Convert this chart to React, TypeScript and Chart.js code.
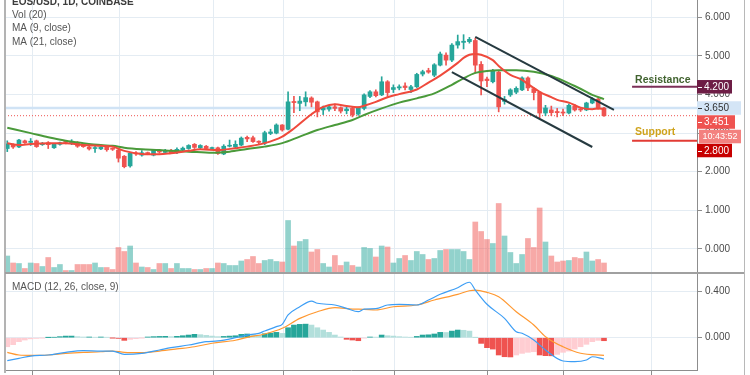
import React, { useEffect, useRef } from 'react';
import { Chart, registerables } from 'chart.js';

Chart.register(...registerables);

const FONT = "'Liberation Sans', Arial, sans-serif";

// ---------- DATA ----------
const titleText = 'EOS/USD, 1D, COINBASE';
const legendLines = ['Vol (20)', 'MA (9, close)', 'MA (21, close)'];
const macdLabel = 'MACD (12, 26, close, 9)';

const opens = [2.60,2.69,2.64,2.80,2.76,2.80,2.70,2.75,2.62,2.71, 2.78,2.74,2.75,2.69,2.64,2.60,2.59,2.64,2.60,2.56, 2.40,2.15,2.48,2.43,2.49,2.43,2.56,2.50,2.55,2.50, 2.56,2.60,2.71,2.62,2.66,2.60,2.62,2.46,2.66,2.64, 2.69,2.89,2.88,2.79,2.74,2.99,3.00,3.21,3.10,3.82, 3.77,3.81,3.91,3.81,3.60,3.62,3.68,3.66,3.58,3.64, 3.49,3.64,3.95,4.07,3.99,4.33,4.13,4.17,4.22,4.13, 4.20,4.53,4.62,4.50,4.76,5.02,4.89,5.28,5.35,5.37, 5.40,4.78,4.40,4.33,4.58,3.82,3.99,4.06,4.12,4.43, 4.15,4.06,3.52,3.60,3.56,3.54,3.52,3.70,3.62,3.60, 3.78,3.88,3.65];
const highs = [2.80,2.72,2.84,2.82,2.86,2.82,2.76,2.78,2.73,2.77, 2.80,2.83,2.78,2.71,2.66,2.66,2.66,2.66,2.62,2.60, 2.42,2.50,2.52,2.55,2.51,2.57,2.58,2.58,2.58,2.62, 2.64,2.70,2.73,2.70,2.68,2.64,2.64,2.70,2.82,2.80, 2.90,2.92,2.92,2.80,3.05,3.10,3.24,3.22,4.07,3.95, 3.95,4.07,3.94,3.83,3.70,3.72,3.75,3.68,3.67,3.68, 3.68,4.02,4.10,4.12,4.46,4.36,4.25,4.25,4.30,4.24, 4.55,4.63,4.68,4.80,5.10,5.08,5.32,5.54,5.55,5.48, 5.46,4.85,4.45,4.65,4.62,3.95,4.15,4.20,4.46,4.46, 4.18,4.08,3.72,3.70,3.64,3.62,3.76,3.74,3.66,3.80, 3.92,3.90,3.67];
const lows = [2.52,2.60,2.62,2.73,2.68,2.63,2.68,2.60,2.60,2.69, 2.72,2.70,2.63,2.63,2.56,2.50,2.57,2.53,2.55,2.25, 2.10,2.12,2.42,2.40,2.44,2.41,2.48,2.48,2.47,2.47, 2.54,2.58,2.60,2.60,2.58,2.58,2.45,2.44,2.64,2.62, 2.67,2.78,2.76,2.72,2.70,2.96,2.98,3.05,3.08,3.53, 3.58,3.70,3.68,3.42,3.48,3.57,3.58,3.52,3.50,3.42, 3.46,3.60,3.92,3.94,3.97,3.95,4.05,4.12,4.12,4.05, 4.18,4.48,4.55,4.46,4.74,4.76,4.85,5.20,5.18,5.33, 4.55,3.99,4.20,4.30,3.55,3.75,3.95,4.02,4.10,4.10, 3.86,3.40,3.45,3.45,3.42,3.45,3.50,3.57,3.56,3.58, 3.76,3.62,3.43];
const closes = [2.72,2.64,2.82,2.75,2.79,2.65,2.73,2.70,2.71,2.75, 2.76,2.79,2.66,2.65,2.59,2.62,2.64,2.57,2.58,2.35, 2.13,2.48,2.46,2.49,2.47,2.55,2.51,2.55,2.49,2.58, 2.61,2.68,2.63,2.68,2.60,2.62,2.47,2.66,2.68,2.71, 2.87,2.85,2.78,2.76,3.01,3.03,3.21,3.08,3.81,3.79, 3.83,3.92,3.80,3.55,3.66,3.68,3.64,3.57,3.62,3.47, 3.66,3.99,4.07,3.97,4.33,4.05,4.18,4.20,4.18,4.20, 4.52,4.59,4.58,4.77,5.05,4.89,5.28,5.37,5.38,5.43, 4.76,4.35,4.36,4.60,3.68,3.87,4.12,4.16,4.43,4.17, 4.05,3.52,3.65,3.53,3.53,3.52,3.72,3.60,3.60,3.78, 3.88,3.65,3.451];
const volumes = [3.4,2.0,1.9,0.9,2.0,1.9,1.3,3.1,1.1,1.7, 0.5,0.5,1.7,1.7,1.7,2.0,1.1,1.1,0.7,5.1, 4.3,5.4,2.0,1.2,1.1,0.7,1.9,1.9,0.9,1.9, 0.9,0.9,0.7,0.7,0.9,0.9,2.0,1.9,1.5,1.5, 2.4,2.7,3.3,1.9,2.5,2.7,2.3,2.2,10.5,5.4, 6.3,6.7,4.2,4.7,1.9,1.2,3.5,1.5,2.2,1.5, 1.2,5.1,4.9,3.2,5.4,5.2,2.0,2.9,3.5,2.5, 4.3,3.7,2.7,2.9,4.5,4.7,4.7,4.7,4.3,2.7, 10.2,8.3,6.7,5.9,13.9,7.4,4.1,1.9,3.7,6.9, 5.1,13.0,6.2,3.4,2.2,2.4,2.5,3.1,2.9,4.2, 2.4,2.7,2.0];

const ma9Idx = [0,2,4,7,10,13,16,18,20,23,26,28,31,33,36,39,41,44,47,49,52,54,56,58,60,61,63,65,67,70,72,74,77,78,79,80,81,83,84,86,88,89,91,93,94,96,98,100,101,102];
const ma9Val = [2.74,2.69,2.72,2.74,2.74,2.69,2.67,2.65,2.54,2.46,2.45,2.48,2.54,2.58,2.56,2.61,2.65,2.74,2.91,3.12,3.49,3.68,3.75,3.70,3.67,3.71,3.81,3.93,4.01,4.13,4.31,4.49,4.82,4.95,5.03,5.05,5.03,4.89,4.74,4.51,4.38,4.27,4.07,3.93,3.86,3.79,3.66,3.62,3.64,3.62];
const ma21Idx = [0,4,7,10,13,16,18,20,23,26,28,31,35,38,41,44,47,50,53,56,59,61,64,67,70,73,76,78,80,82,84,87,90,93,95,97,99,100,102];
const ma21Val = [3.14,3.00,2.89,2.80,2.74,2.69,2.67,2.62,2.58,2.56,2.54,2.52,2.49,2.52,2.59,2.65,2.74,2.91,3.08,3.21,3.34,3.47,3.64,3.79,3.90,4.03,4.25,4.42,4.56,4.61,4.63,4.63,4.59,4.48,4.36,4.22,4.07,3.99,3.88];

const macdIdx = [0,2,4,7,10,13,16,18,20,23,26,28,31,34,36,39,41,43,44,46,47,48,50,52,53,56,58,60,61,63,65,67,70,72,74,77,79,80,82,85,87,88,90,92,95,97,99,100,102];
const macdVal = [-0.198,-0.178,-0.158,-0.149,-0.126,-0.112,-0.115,-0.115,-0.143,-0.135,-0.106,-0.086,-0.063,-0.034,-0.028,0.0,0.023,0.038,0.058,0.095,0.115,0.196,0.267,0.316,0.297,0.282,0.253,0.224,0.247,0.250,0.282,0.288,0.282,0.325,0.374,0.431,0.478,0.411,0.288,0.167,0.052,0.038,-0.02,-0.106,-0.201,-0.207,-0.192,-0.164,-0.184];
const signalIdx = [0,2,4,7,10,13,16,18,20,23,26,29,32,35,39,41,44,47,50,53,56,59,61,63,66,70,73,77,79,80,82,84,87,90,92,95,98,102];
const signalVal = [-0.126,-0.149,-0.152,-0.149,-0.135,-0.126,-0.121,-0.115,-0.126,-0.129,-0.115,-0.097,-0.078,-0.048,-0.022,0.003,0.032,0.081,0.167,0.224,0.259,0.247,0.245,0.239,0.267,0.282,0.325,0.374,0.405,0.411,0.391,0.353,0.224,0.109,0.009,-0.078,-0.134,-0.152];
const histVals = [-0.078,-0.06,-0.034,-0.02,-0.01,-0.006,-0.002,0.001,0.003,0.009, 0.014,0.014,0.009,0.006,0.006,0.004,0.006,0.004,-0.001,-0.006, -0.023,-0.014,-0.008,-0.001,0.006,0.009,0.011,0.012,0.009,0.012, 0.017,0.023,0.029,0.026,0.02,0.014,0.009,0.011,0.014,0.017, 0.029,0.032,0.026,0.02,0.034,0.04,0.046,0.037,0.086,0.109, 0.115,0.117,0.109,0.086,0.066,0.046,0.023,0.006,-0.014,-0.02, -0.026,-0.003,0.006,0.005,0.023,0.017,0.014,0.009,0.006,0.003, 0.011,0.023,0.025,0.032,0.046,0.045,0.057,0.066,0.064,0.057, 0.001,-0.049,-0.086,-0.098,-0.149,-0.164,-0.166,-0.149,-0.135,-0.126, -0.121,-0.149,-0.155,-0.156,-0.144,-0.126,-0.115,-0.098,-0.078,-0.057, -0.034,-0.023,-0.026];

const upperChannelX = [80, 103.7];
const upperChannelY = [5.49, 3.60];
const lowerChannelX = [76, 100];
const lowerChannelY = [4.58, 2.64];
const levelStart = 106.8;
const resistanceLevel = 4.2;
const supportLevel = 2.8;
const markPrice = 3.65;
const lastPrice = 3.451;
const countdown = '10:43:52';

const priceTicks = [0, 1, 2, 3, 4, 5, 6];
const macdTicks = [0, 0.4];
const timeGrid = [4.35, 19.15, 35.2, 47.2, 66.15, 82.1, 95.05, 110.15];

// ---------- STYLE / RANGES ----------
const X_MIN = -0.39;
const X_MAX = 117.9;
const PRICE_MIN = -0.624;
const PRICE_MAX = 6.448;
const VOL_MAX = 54.6;
const MACD_MIN = -0.2784;
const MACD_MAX = 0.5578;
const GRID = '#e4ecf3';
const AXIS = '#8d8d8d';
const UP = '#26a69a';
const DOWN = '#ef5350';
const AXIS_W = 53;

const isUp = (i: number) => closes[i] >= opens[i];

const xAxis = (withTicks: boolean) => ({
  type: 'linear',
  min: X_MIN,
  max: X_MAX,
  offset: false,
  afterBuildTicks: (s: any) => { s.ticks = timeGrid.map((v) => ({ value: v })); },
  afterFit: (s: any) => { s.height = withTicks ? 5 : 0; s.paddingLeft = 0; s.paddingRight = 0; },
  grid: { color: GRID, lineWidth: 1, offset: false, drawTicks: withTicks, tickLength: 5, tickColor: AXIS },
  border: { display: withTicks, color: AXIS, width: 1 },
  ticks: { display: false },
});

const yAxis = (min: number, max: number, tickValues: number[]) => ({
  type: 'linear',
  position: 'right',
  min,
  max,
  afterBuildTicks: (s: any) => { s.ticks = tickValues.map((v) => ({ value: v })); },
  afterFit: (s: any) => { s.width = AXIS_W; s.paddingTop = 0; s.paddingBottom = 0; },
  grid: { color: GRID, lineWidth: 1, offset: false, tickColor: AXIS, tickLength: 5 },
  border: { color: AXIS, width: 1 },
  ticks: { color: '#4a4a4a', font: { size: 10, family: FONT }, padding: 3, callback: (v: any) => Number(v).toFixed(3) },
});

const priceOverlay = {
  id: 'priceOverlay',
  afterDraw(chart: any) {
    const ctx = chart.ctx;
    const xs = chart.scales.x;
    const ys = chart.scales.y;
    const right = chart.chartArea.right;
    ctx.save();
    ctx.textBaseline = 'middle';
    ctx.textAlign = 'left';
    ctx.font = `bold 10px ${FONT}`;
    ctx.fillStyle = '#3c3c3c';
    ctx.fillText(titleText, 12, 2);
    ctx.font = `10px ${FONT}`;
    ctx.fillStyle = '#555555';
    legendLines.forEach((t, k) => ctx.fillText(t, 12, 15 + 13.5 * k));

    ctx.font = `bold 10.5px ${FONT}`;
    ctx.fillStyle = '#41632f';
    ctx.fillText('Resistance', xs.getPixelForValue(levelStart) + 3, ys.getPixelForValue(resistanceLevel) - 7);
    ctx.fillStyle = '#cfa31c';
    ctx.fillText('Support', xs.getPixelForValue(levelStart) + 3, ys.getPixelForValue(supportLevel) - 8.5);

    const H = 13.5;
    const badges = [
      { value: resistanceLevel, text: resistanceLevel.toFixed(3), bg: '#6d1d45', fg: '#ffffff', w: 35, sub: null as any },
      { value: markPrice, text: markPrice.toFixed(3), bg: '#d4e5f6', fg: '#333333', w: 44, sub: null as any },
      { value: lastPrice, text: lastPrice.toFixed(3), bg: '#ef5350', fg: '#ffffff', w: 38, sub: { text: countdown, bg: '#f3817f' } },
      { value: supportLevel, text: supportLevel.toFixed(3), bg: '#c70000', fg: '#ffffff', w: 35, sub: null as any },
    ].map((b) => ({ ...b, y: ys.getPixelForValue(b.value) }))
      .sort((a, b) => a.y - b.y);
    let prevBottom = -1000;
    ctx.font = `10px ${FONT}`;
    badges.forEach((b) => {
      const top = Math.max(b.y - H / 2, prevBottom + 0.5);
      ctx.fillStyle = b.bg;
      ctx.fillRect(right, top, b.w, H);
      ctx.strokeStyle = b.fg;
      ctx.lineWidth = 1;
      ctx.beginPath();
      ctx.moveTo(right + 1, Math.round(top + H / 2) + 0.5);
      ctx.lineTo(right + 5, Math.round(top + H / 2) + 0.5);
      ctx.stroke();
      ctx.fillStyle = b.fg;
      ctx.textAlign = 'left';
      ctx.fillText(b.text, right + 7, top + H / 2 + 0.5);
      prevBottom = top + H;
      if (b.sub) {
        const st = prevBottom + 1;
        ctx.fillStyle = b.sub.bg;
        ctx.fillRect(right + 2, st, 42, H);
        ctx.fillStyle = '#ffffff';
        ctx.font = `9px ${FONT}`;
        ctx.textAlign = 'center';
        ctx.fillText(b.sub.text, right + 23, st + H / 2 + 0.5);
        ctx.font = `10px ${FONT}`;
        prevBottom = st + H;
      }
    });
    ctx.restore();
  },
};

const macdOverlay = {
  id: 'macdOverlay',
  afterDraw(chart: any) {
    const ctx = chart.ctx;
    ctx.save();
    ctx.textBaseline = 'middle';
    ctx.textAlign = 'left';
    ctx.font = `10px ${FONT}`;
    ctx.fillStyle = '#555555';
    ctx.fillText(macdLabel, 12, 14);
    ctx.restore();
  },
};

const lineDs = (label: string, xsArr: number[], ysArr: number[], color: string, width: number, order: number, extra: any = {}) => ({
  type: 'line',
  label,
  data: xsArr.map((x, k) => ({ x, y: ysArr[k] })),
  borderColor: color,
  borderWidth: width,
  pointRadius: 0,
  fill: false,
  order,
  ...extra,
});

const baseOptions = {
  animation: false,
  responsive: false,
  maintainAspectRatio: false,
  devicePixelRatio: 1,
  events: [],
  layout: { padding: { left: 5, right: 0, top: 0, bottom: 0 } },
  plugins: { legend: { display: false }, tooltip: { enabled: false } },
};

export default function App() {
  const priceRef = useRef<HTMLCanvasElement>(null);
  const macdRef = useRef<HTMLCanvasElement>(null);

  useEffect(() => {
    Chart.defaults.font.family = FONT;
    const idx = opens.map((_, i) => i);

    const priceChart = new Chart(priceRef.current as HTMLCanvasElement, {
      type: 'bar',
      data: {
        datasets: [
          {
            type: 'bar',
            label: 'Volume',
            yAxisID: 'yVol',
            data: idx.map((i) => ({ x: i, y: volumes[i] })),
            backgroundColor: idx.map((i) => (isUp(i) ? 'rgba(38,166,154,0.5)' : 'rgba(239,83,80,0.5)')),
            barThickness: 5,
            grouped: false,
            order: 10,
          },
          lineDs('Mark', [X_MIN, X_MAX], [markPrice, markPrice], '#d0e3f5', 2.5, 9),
          lineDs('Last', [X_MIN, X_MAX], [lastPrice, lastPrice], '#ef5350', 1, 9, { borderDash: [1, 2] }),
          {
            type: 'bar',
            label: 'Wick',
            yAxisID: 'y',
            data: idx.map((i) => ({ x: i, y: [lows[i], highs[i]] })),
            backgroundColor: idx.map((i) => (isUp(i) ? UP : DOWN)),
            barThickness: 1,
            grouped: false,
            order: 4,
          },
          {
            type: 'bar',
            label: 'Body',
            yAxisID: 'y',
            data: idx.map((i) => ({ x: i, y: [opens[i], closes[i]] })),
            backgroundColor: idx.map((i) => (isUp(i) ? UP : DOWN)),
            barThickness: 4,
            minBarLength: 1,
            grouped: false,
            order: 3,
          },
          lineDs('MA21', ma21Idx, ma21Val, '#4a9a3a', 2, 2, { cubicInterpolationMode: 'monotone' }),
          lineDs('MA9', ma9Idx, ma9Val, '#ef4a3c', 2, 1, { cubicInterpolationMode: 'monotone' }),
          lineDs('Upper channel', upperChannelX, upperChannelY, '#263a40', 2, 0),
          lineDs('Lower channel', lowerChannelX, lowerChannelY, '#263a40', 2, 0),
          lineDs('Resistance', [levelStart, X_MAX], [resistanceLevel, resistanceLevel], '#7c2f58', 2, 0),
          lineDs('Support', [levelStart, X_MAX], [supportLevel, supportLevel], '#e23b35', 2, 0),
        ] as any,
      },
      options: {
        ...baseOptions,
        scales: {
          x: xAxis(false) as any,
          y: yAxis(PRICE_MIN, PRICE_MAX, priceTicks) as any,
          yVol: { type: 'linear', display: false, min: 0, max: VOL_MAX },
        },
      },
      plugins: [priceOverlay],
    } as any);

    const macdChart = new Chart(macdRef.current as HTMLCanvasElement, {
      type: 'bar',
      data: {
        datasets: [
          {
            type: 'bar',
            label: 'Histogram',
            data: idx.map((i) => ({ x: i, y: histVals[i] })),
            backgroundColor: idx.map((i) => {
              const h = histVals[i];
              const p = i > 0 ? histVals[i - 1] : h;
              if (h >= 0) return h >= p ? '#26a69a' : '#b2dfdb';
              return h < p ? '#ef5350' : '#ffcdd2';
            }),
            barThickness: 5,
            grouped: false,
            order: 3,
          },
          lineDs('Signal', signalIdx, signalVal, '#ff9830', 1.2, 2, { cubicInterpolationMode: 'monotone' }),
          lineDs('MACD', macdIdx, macdVal, '#3d9ef5', 1.2, 1, { cubicInterpolationMode: 'monotone' }),
        ] as any,
      },
      options: {
        ...baseOptions,
        scales: {
          x: xAxis(true) as any,
          y: yAxis(MACD_MIN, MACD_MAX, macdTicks) as any,
        },
      },
      plugins: [macdOverlay],
    } as any);

    return () => {
      priceChart.destroy();
      macdChart.destroy();
    };
  }, []);

  return (
    <div style={{ position: 'fixed', left: 0, top: 0, width: 750, height: 375, background: '#ffffff', overflow: 'hidden' }}>
      <canvas ref={priceRef} width={750} height={273} style={{ position: 'absolute', left: 0, top: 0, width: 750, height: 273 }} />
      <canvas ref={macdRef} width={750} height={102} style={{ position: 'absolute', left: 0, top: 273, width: 750, height: 102 }} />
      <div style={{ position: 'absolute', left: 4, top: 0, width: 2, height: 373, background: '#b3b3b3' }} />
      <div style={{ position: 'absolute', left: 5, top: 272, width: 740, height: 2, background: '#a0a0a0' }} />
      <div style={{ position: 'absolute', left: 744, top: 0, width: 1, height: 375, background: '#b8b8b8' }} />
    </div>
  );
}
